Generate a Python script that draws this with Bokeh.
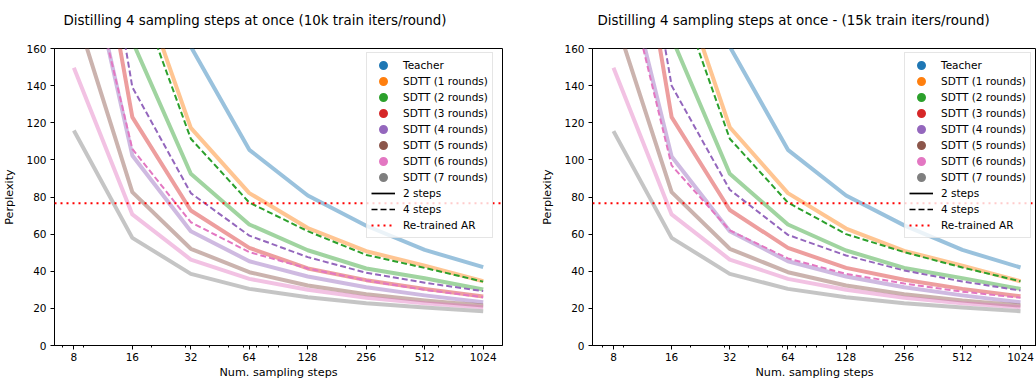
import numpy as np
from bokeh.plotting import figure
from bokeh.models import Range1d, FixedTicker, Legend, LegendItem, Span, Title
from bokeh.layouts import row
from bokeh.embed import file_html
from bokeh.resources import INLINE

# ---------------- data ----------------
steps = [8, 16, 32, 64, 128, 256, 512, 1024]
x_tick_labels = ["8", "16", "32", "64", "128", "256", "512", "1024"]
x_minor_ticks = [7, 9, 20, 30, 40, 50, 60, 70, 80, 90,
                 200, 300, 400, 500, 600, 700, 800, 900]
y_ticks = [0, 20, 40, 60, 80, 100, 120, 140, 160]
retrained_ar = 76.7

series_labels = ["Teacher", "SDTT (1 rounds)", "SDTT (2 rounds)", "SDTT (3 rounds)",
                 "SDTT (4 rounds)", "SDTT (5 rounds)", "SDTT (6 rounds)", "SDTT (7 rounds)"]
series_colors = ["#1f77b4", "#ff7f0e", "#2ca02c", "#d62728",
                 "#9467bd", "#8c564b", "#e377c2", "#7f7f7f"]

# Left panel: 10k train iters / round  (2 sampling steps, solid)
teacher_10k = [600, 290, 161, 105.4, 80.8, 64.5, 51.5, 42.2]
r1_2steps_10k = [420, 207, 117.2, 82.1, 63.3, 50.8, 43.0, 34.6]
r2_2steps_10k = [330, 164, 92.5, 65.2, 51.3, 41.5, 36.2, 30.2]
r3_2steps_10k = [299, 123.0, 72.7, 52.6, 41.5, 35.2, 30.5, 26.4]
r4_2steps_10k = [243, 102.4, 61.6, 45.4, 37.2, 31.4, 27.0, 23.3]
r5_2steps_10k = [182.5, 82.6, 52.1, 39.5, 32.3, 27.6, 24.2, 21.5]
r6_2steps_10k = [149.6, 70.6, 46.3, 35.9, 30.0, 25.7, 22.7, 20.6]
r7_2steps_10k = [115.8, 58.0, 38.6, 30.5, 26.0, 22.8, 20.5, 18.5]
# 4 sampling steps (dashed)
r2_4steps_10k = [400, 198, 111.4, 77.0, 61.6, 48.8, 41.8, 34.4]
r4_4steps_10k = [325, 139.2, 82.1, 59.2, 47.6, 39.2, 33.8, 29.3]
r6_4steps_10k = [238, 105.9, 66.4, 50.3, 41.5, 35.0, 30.0, 26.0]

# Right panel: 15k train iters / round
teacher_15k = [600, 290, 161, 105.4, 80.8, 64.7, 51.5, 42.0]
r1_2steps_15k = [420, 210, 117.6, 82.1, 63.0, 51.0, 43.0, 34.6]
r2_2steps_15k = [330, 166, 92.5, 65.2, 51.2, 41.8, 36.3, 30.5]
r3_2steps_15k = [308, 123.0, 73.0, 52.6, 41.8, 35.4, 30.5, 26.5]
r4_2steps_15k = [229, 101.8, 61.6, 45.4, 37.2, 31.4, 27.0, 23.3]
r5_2steps_15k = [179, 82.6, 52.1, 39.5, 32.3, 27.6, 24.2, 21.5]
r6_2steps_15k = [149.6, 70.6, 46.3, 35.9, 30.0, 25.7, 22.7, 20.6]
r7_2steps_15k = [115.5, 58.0, 38.6, 30.5, 26.0, 22.8, 20.5, 18.5]
r2_4steps_15k = [400, 200, 111.4, 77.0, 60.0, 50.3, 42.0, 34.6]
r4_4steps_15k = [322, 140, 83.9, 59.6, 48.5, 40.4, 34.5, 29.6]
r6_4steps_15k = [226, 97.0, 62.0, 46.9, 38.6, 33.4, 29.0, 25.7]

FONT = "DejaVu Sans"


def build_panel(title, solid_series, dashed_series, x_lo, x_hi,
                border_left, border_right, title_offset):
    p = figure(width=518, height=382, x_axis_type="log",
               x_range=Range1d(x_lo, x_hi), y_range=Range1d(0, 160),
               output_backend="svg", toolbar_location=None,
               min_border_left=border_left, min_border_right=border_right,
               min_border_top=48, min_border_bottom=37,
               background_fill_color="white", border_fill_color="white")

    # titles: a thin spacer panel next to the frame, the real title above it
    p.title = None
    spacer = Title(text=" ", text_font_size="1px", standoff=18)
    real_title = Title(text=title, align="left", offset=title_offset, standoff=0,
                       text_font=FONT, text_font_size="13.4px",
                       text_font_style="normal", text_color="black")
    p.add_layout(spacer, "above")
    p.add_layout(real_title, "above")

    p.xgrid.visible = False
    p.ygrid.visible = False
    p.outline_line_color = "black"
    p.outline_line_width = 1
    p.outline_line_alpha = 1

    p.xaxis.ticker = FixedTicker(ticks=steps, minor_ticks=x_minor_ticks)
    p.xaxis.major_label_overrides = {s: lab for s, lab in zip(steps, x_tick_labels)}
    p.yaxis.ticker = FixedTicker(ticks=y_ticks, minor_ticks=[])
    p.xaxis.axis_label = "Num. sampling steps"
    p.yaxis.axis_label = "Perplexity"

    for ax in (p.xaxis[0], p.yaxis[0]):
        ax.axis_line_color = "black"
        ax.major_tick_line_color = "black"
        ax.minor_tick_line_color = "black"
        ax.major_tick_in = 0
        ax.major_tick_out = 4
        ax.minor_tick_in = 0
        ax.minor_tick_out = 2
        ax.major_label_text_font = FONT
        ax.major_label_text_font_size = "10.5px"
        ax.major_label_text_color = "black"
        ax.axis_label_text_font = FONT
        ax.axis_label_text_font_size = "11.2px"
        ax.axis_label_text_font_style = "normal"
        ax.axis_label_text_color = "black"
    p.xaxis.major_label_standoff = 3
    p.xaxis.axis_label_standoff = 2
    p.yaxis.major_label_standoff = 4
    p.yaxis.axis_label_standoff = 7

    # 2-step (solid, thick, translucent)
    for vals, color in zip(solid_series, series_colors):
        p.line(steps, vals, line_color=color, line_width=4, line_alpha=0.45,
               line_join="round")
    # 4-step (dashed)
    for vals, ci in dashed_series:
        p.line(steps, vals, line_color=series_colors[ci], line_width=2,
               line_dash="6 3")

    p.add_layout(Span(location=retrained_ar, dimension="width", line_color="red",
                      line_width=2, line_dash="2 4"))

    # legend entries
    items = []
    for lab, c in zip(series_labels, series_colors):
        r = p.scatter(x=np.array([np.nan]), y=np.array([np.nan]), marker="circle",
                      size=6, fill_color=c, line_color=c, line_width=2.6)
        items.append(LegendItem(label=lab, renderers=[r]))
    r_solid = p.line(x=np.array([np.nan]), y=np.array([np.nan]),
                     line_color="black", line_width=1.7)
    items.append(LegendItem(label="2 steps", renderers=[r_solid]))
    r_dash = p.line(x=np.array([np.nan]), y=np.array([np.nan]),
                    line_color="black", line_width=1.7, line_dash="6 3")
    items.append(LegendItem(label="4 steps", renderers=[r_dash]))
    r_ar = p.line(x=np.array([np.nan]), y=np.array([np.nan]),
                  line_color="red", line_width=2, line_dash="2 4")
    items.append(LegendItem(label="Re-trained AR", renderers=[r_ar]))

    legend = Legend(items=items, location=(312, 107),
                    label_text_font=FONT, label_text_font_size="10.5px",
                    label_text_color="black",
                    glyph_width=24, glyph_height=16, label_height=16,
                    label_standoff=8, spacing=0, padding=4, margin=0,
                    border_line_color="#cccccc", border_line_width=1,
                    background_fill_color="white", background_fill_alpha=0.8)
    p.add_layout(legend)
    return p


p1 = build_panel(
    "Distilling 4 sampling steps at once (10k train iters/round)",
    [teacher_10k, r1_2steps_10k, r2_2steps_10k, r3_2steps_10k,
     r4_2steps_10k, r5_2steps_10k, r6_2steps_10k, r7_2steps_10k],
    [(r2_4steps_10k, 2), (r4_4steps_10k, 4), (r6_4steps_10k, 6)],
    6.36, 1287, 54, 16, 9)

p2 = build_panel(
    "Distilling 4 sampling steps at once - (15k train iters/round)",
    [teacher_15k, r1_2steps_15k, r2_2steps_15k, r3_2steps_15k,
     r4_2steps_15k, r5_2steps_15k, r6_2steps_15k, r7_2steps_15k],
    [(r2_4steps_15k, 2), (r4_4steps_15k, 4), (r6_4steps_15k, 6)],
    6.23, 1239, 74, 0, 5)

layout = row(p1, p2)
open("out.html", "w").write(file_html(layout, INLINE))
